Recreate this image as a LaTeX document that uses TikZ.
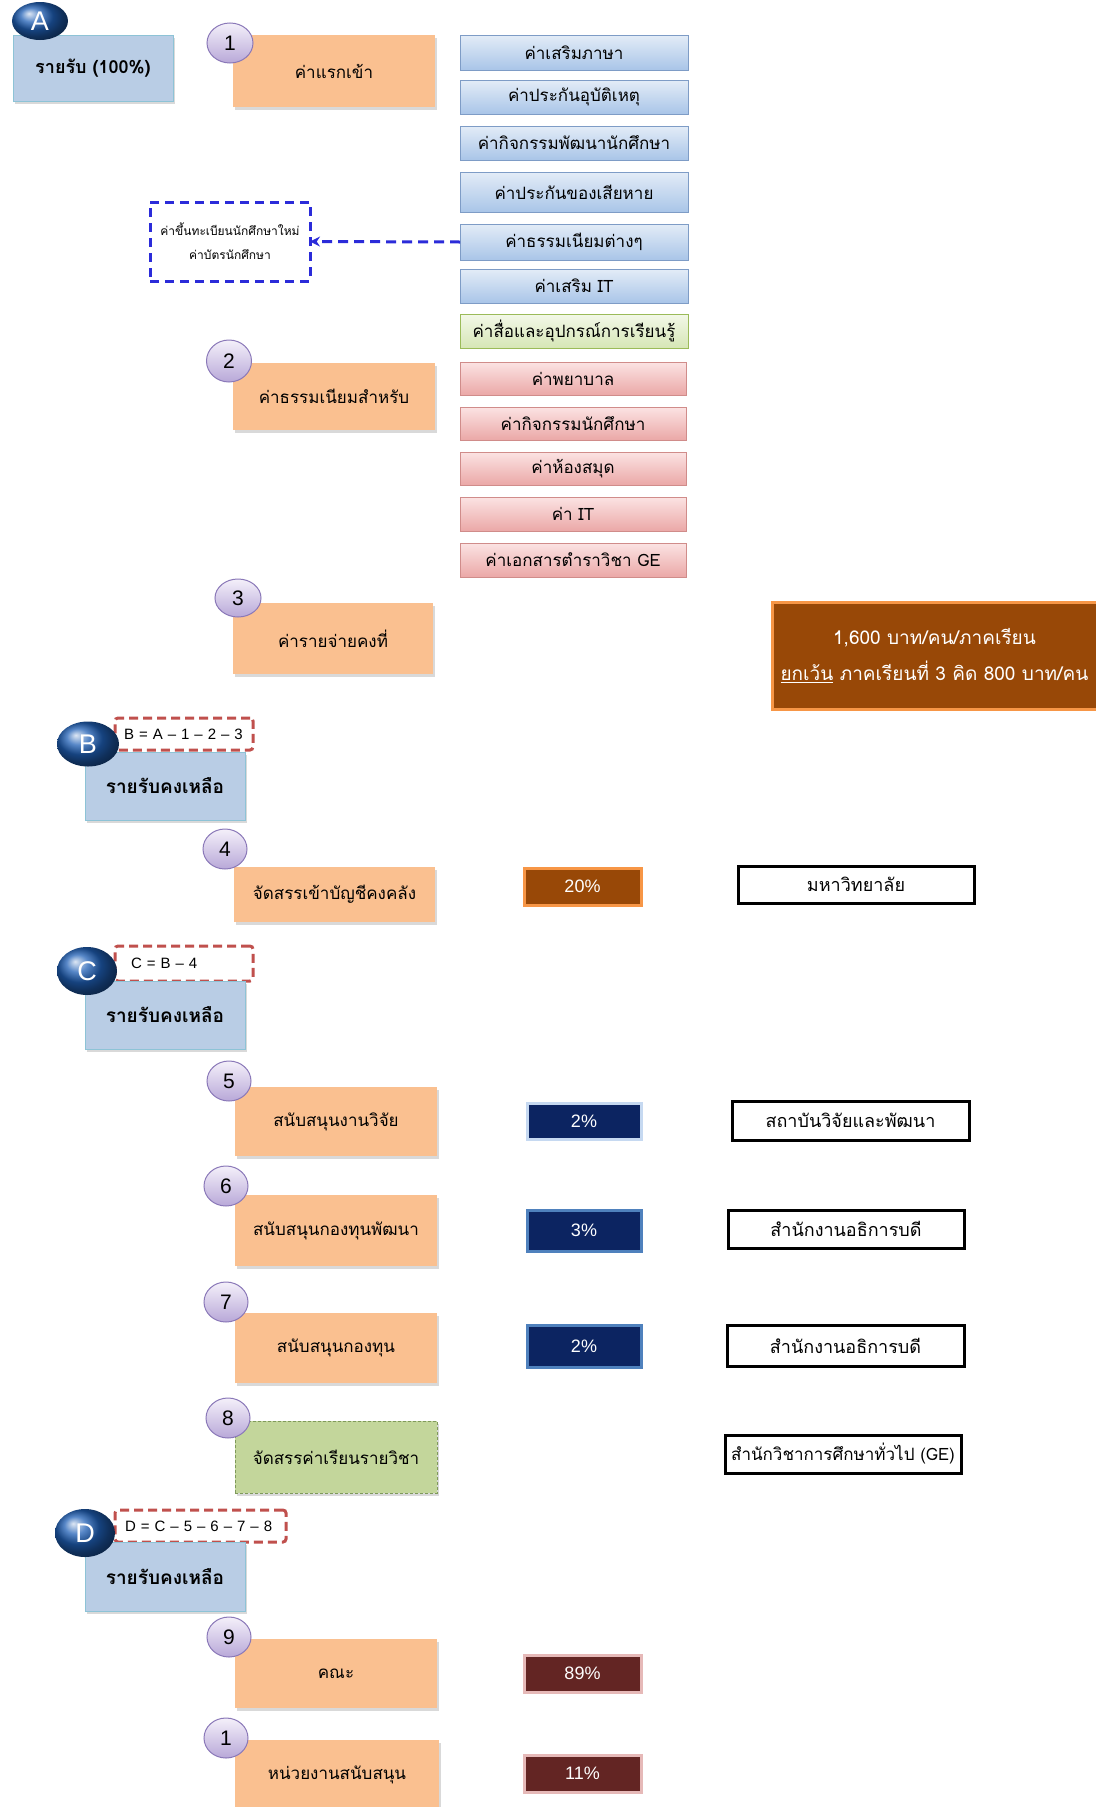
\documentclass[tikz,border=0pt]{standalone}
\usepackage{fontspec}
\setmainfont[Script=Thai]{Loma}
\newfontfamily\lat{Liberation Sans}
\usetikzlibrary{shapes.geometric,shadows,arrows.meta}
\definecolor{orfill}{HTML}{FAC090}
\definecolor{blfill}{HTML}{B9CDE5}
\definecolor{bldraw}{HTML}{8DC3D6}
\definecolor{numtop}{HTML}{F4F0FA}
\definecolor{numbot}{HTML}{B8A8D8}
\definecolor{numdraw}{HTML}{8A78B8}
\definecolor{letblue}{HTML}{1F5FB5}
\definecolor{rcbtop}{HTML}{E3ECF7}
\definecolor{rcbbot}{HTML}{A9C5E8}
\definecolor{rcbdraw}{HTML}{7E9CC6}
\definecolor{rcgtop}{HTML}{F3F8E8}
\definecolor{rcgbot}{HTML}{D6E6B6}
\definecolor{rcgdraw}{HTML}{9BBB59}
\definecolor{rcptop}{HTML}{FBE3E3}
\definecolor{rcpbot}{HTML}{EBA8A7}
\definecolor{rcpdraw}{HTML}{D08C8A}
\definecolor{reddash}{HTML}{C0504D}
\definecolor{bluedash}{HTML}{2B2BD9}
\definecolor{brownf}{HTML}{984807}
\definecolor{orbord}{HTML}{F79646}
\definecolor{navyf}{HTML}{0C2461}
\definecolor{navylt}{HTML}{C6D9F1}
\definecolor{navymd}{HTML}{4F81BD}
\definecolor{maroonf}{HTML}{632523}
\definecolor{pinkbord}{HTML}{E6B9B8}
\definecolor{grfill}{HTML}{C3D69B}
\definecolor{grdraw}{HTML}{7F9A5A}
\newcommand\bx[7]{\node[#2, anchor=north west, minimum width={#5-#3}, minimum height={#6-#4}] (#1) at (#3,#4) {#7};}
\begin{document}
\begin{tikzpicture}[x=1pt,y=-1pt,
  every node/.style={inner sep=0pt, outer sep=0pt, align=center},
  shad/.style={drop shadow={shadow xshift=1.5pt, shadow yshift=-2.5pt, opacity=0.3}},
  orbox/.style={fill=orfill, shad, font=\fontsize{17}{20}\selectfont},
  grbox/.style={fill=grfill, draw=grdraw, densely dashed, line width=0.8pt, shad, font=\fontsize{17}{20}\selectfont},
  blbox/.style={fill=blfill, draw=bldraw, line width=1pt, shad, font=\bfseries\fontsize{19}{22}\selectfont},
  numc/.style={ellipse, draw=numdraw, line width=1pt, top color=numtop, bottom color=numbot, font=\lat\fontsize{21}{21}\selectfont},
  letter/.style={ellipse, shading=ball, ball color=letblue, text=white, font=\lat\fontsize{27}{27}\selectfont},
  rcb/.style={top color=rcbtop, bottom color=rcbbot, draw=rcbdraw, line width=1pt, font=\fontsize{17}{19}\selectfont},
  rcg/.style={top color=rcgtop, bottom color=rcgbot, draw=rcgdraw, line width=1pt, font=\fontsize{17}{19}\selectfont},
  rcp/.style={top color=rcptop, bottom color=rcpbot, draw=rcpdraw, line width=1pt, font=\fontsize{17}{19}\selectfont},
  formula/.style={draw=reddash, line width=3pt, dash pattern=on 9pt off 5pt, rounded corners=3pt, fill=white, font=\lat\fontsize{15}{15}\selectfont, text width=130pt, align=left},
  pct/.style={line width=3pt, text=white, font=\lat\fontsize{18}{18}\selectfont},
  blk/.style={draw=black, line width=3pt, fill=white, font=\fontsize{18}{20}\selectfont},
  bluearrow/.style={draw=bluedash, line width=3pt, dash pattern=on 10pt off 6pt}
]
\useasboundingbox (0,0) rectangle (1095,1807);

% A section
\bx{Abox}{blbox, font=\bfseries\fontsize{18}{20}\selectfont}{13}{35}{173}{101}{รายรับ (100\%)}
\node[letter, minimum width=56pt, minimum height=38pt] (Aell) at (40,21) {A};
\bx{b1}{orbox}{233}{35}{435}{107}{ค่าแรกเข้า}
\node[numc, minimum width=46pt, minimum height=40pt] (n1) at (230,43) {1};

% right column
\bx{r1}{rcb}{460}{35}{688}{70}{ค่าเสริมภาษา}
\bx{r2}{rcb}{460}{80}{688}{114}{ค่าประกันอุบัติเหตุ}
\bx{r3}{rcb}{460}{126}{688}{160}{ค่ากิจกรรมพัฒนานักศึกษา}
\bx{r4}{rcb}{460}{172}{688}{212}{ค่าประกันของเสียหาย}
\bx{r5}{rcb}{460}{224}{688}{260}{ค่าธรรมเนียมต่างๆ}
\bx{r6}{rcb}{460}{269}{688}{303}{ค่าเสริม IT}
\bx{r7}{rcg}{460}{314}{688}{348}{ค่าสื่อและอุปกรณ์การเรียนรู้}
\bx{r8}{rcp}{460}{362}{686}{395}{ค่าพยาบาล}
\bx{r9}{rcp}{460}{407}{686}{440}{ค่ากิจกรรมนักศึกษา}
\bx{r10}{rcp}{460}{452}{686}{485}{ค่าห้องสมุด}
\bx{r11}{rcp}{460}{497}{686}{531}{ค่า IT}
\bx{r12}{rcp}{460}{543}{686}{577}{ค่าเอกสารตำราวิชา GE}

% dashed note box and arrow
\bx{note}{draw=bluedash, line width=3pt, dash pattern=on 9pt off 6pt, fill=white, font=\fontsize{12}{24}\selectfont}{150}{202}{310}{281}{ค่าขึ้นทะเบียนนักศึกษาใหม่\\ค่าบัตรนักศึกษา}
\draw[bluearrow, -{Stealth[length=10pt,width=10pt]}] (r5.west) -- (note.east);

\bx{b2}{orbox}{233}{363}{435}{430}{ค่าธรรมเนียมสำหรับ}
\node[numc, minimum width=45pt, minimum height=42pt] (n2) at (229,361) {2};
\bx{b3}{orbox}{233}{603}{433}{674}{ค่ารายจ่ายคงที่}
\node[numc, minimum width=46pt, minimum height=38pt] (n3) at (238,598) {3};

\bx{fixed}{fill=brownf, draw=orbord, line width=3pt, text=white, font=\fontsize{19}{36}\selectfont}{772}{602}{1097}{709}{1,600 บาท/คน/ภาคเรียน\\\underline{ยกเว้น} ภาคเรียนที่ 3 คิด 800 บาท/คน}

% B section
\bx{Bf}{formula}{115}{718}{253}{750}{\hspace*{5pt}B = A – 1 – 2 – 3}
\bx{Bbox}{blbox}{85}{752}{245}{820}{รายรับคงเหลือ}
\node[letter, minimum width=62pt, minimum height=45pt] (Bell) at (88,744) {B};

\bx{b4}{orbox}{234}{867}{435}{922}{จัดสรรเข้าบัญชีคงคลัง}
\node[numc, minimum width=44pt, minimum height=40pt] (n4) at (225,849) {4};
\bx{p4}{pct, fill=brownf, draw=orbord}{524}{868}{641}{905}{20\%}
\bx{u4}{blk}{738}{866}{974}{903}{มหาวิทยาลัย}

% C section
\bx{Cf}{formula}{115}{946}{253}{981}{\hspace*{12pt}C = B – 4}
\bx{Cbox}{blbox}{85}{981}{245}{1049}{รายรับคงเหลือ}
\node[letter, minimum width=60pt, minimum height=48pt] (Cell) at (87,971) {C};

\bx{b5}{orbox}{235}{1087}{437}{1156}{สนับสนุนงานวิจัย}
\node[numc, minimum width=44pt, minimum height=40pt] (n5) at (229,1081) {5};
\bx{p5}{pct, fill=navyf, draw=navylt}{527}{1103}{641}{1139}{2\%}
\bx{u5}{blk}{732}{1101}{969}{1140}{สถาบันวิจัยและพัฒนา}

\bx{b6}{orbox}{235}{1195}{437}{1266}{สนับสนุนกองทุนพัฒนา}
\node[numc, minimum width=44pt, minimum height=40pt] (n6) at (226,1186) {6};
\bx{p6}{pct, fill=navyf, draw=navymd}{527}{1210}{641}{1251}{3\%}
\bx{u6}{blk}{728}{1210}{964}{1248}{สำนักงานอธิการบดี}

\bx{b7}{orbox}{235}{1313}{437}{1383}{สนับสนุนกองทุน}
\node[numc, minimum width=44pt, minimum height=40pt] (n7) at (226,1302) {7};
\bx{p7}{pct, fill=navyf, draw=navymd}{527}{1325}{641}{1367}{2\%}
\bx{u7}{blk}{727}{1325}{964}{1366}{สำนักงานอธิการบดี}

\bx{b8}{grbox}{235}{1421}{437}{1493}{จัดสรรค่าเรียนรายวิชา}
\node[numc, minimum width=44pt, minimum height=40pt] (n8) at (228,1418) {8};
\bx{u8}{blk, font=\fontsize{17}{19}\selectfont}{725}{1435}{961}{1473}{สำนักวิชาการศึกษาทั่วไป (GE)}

% D section
\bx{Df}{formula, text width=165pt}{115}{1510}{286}{1542}{\hspace*{7pt}D = C – 5 – 6 – 7 – 8}
\bx{Dbox}{blbox}{85}{1542}{245}{1611}{รายรับคงเหลือ}
\node[letter, minimum width=60pt, minimum height=48pt] (Dell) at (85,1533) {D};

\bx{b9}{orbox}{235}{1639}{437}{1708}{คณะ}
\node[numc, minimum width=44pt, minimum height=40pt] (n9) at (229,1637) {9};
\bx{p9}{pct, fill=maroonf, draw=pinkbord}{524}{1655}{641}{1692}{89\%}

\bx{b10}{orbox}{235}{1740}{439}{1810}{หน่วยงานสนับสนุน}
\node[numc, minimum width=44pt, minimum height=40pt] (n10) at (226,1738) {1};
\bx{p10}{pct, fill=maroonf, draw=pinkbord}{524}{1755}{641}{1792}{11\%}
\end{tikzpicture}
\end{document}
